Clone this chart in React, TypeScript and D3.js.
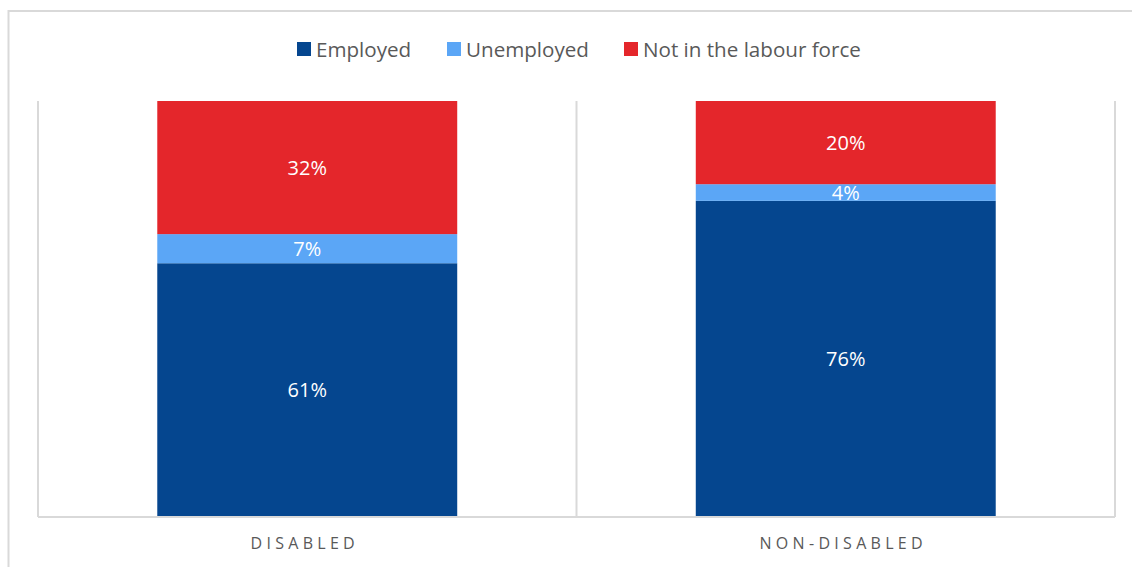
import React from "react";
import * as d3 from "d3";

const categories = ["DISABLED", "NON-DISABLED"];
const seriesNames = ["Employed", "Unemployed", "Not in the labour force"];
const employed = [61, 76];
const unemployed = [7, 4];
const notInLabourForce = [32, 20];
const colors = ["#05468F", "#5BA6F6", "#E4262B"];

const W = 1132;
const H = 567;
const plot = { left: 38, right: 1115, top: 101, bottom: 517 };
const font = "'Open Sans', sans-serif";

export default function App() {
  const x = d3.scaleBand<string>().domain(categories).range([plot.left, plot.right]).padding(0);
  const y = d3.scaleLinear().domain([0, 100]).range([plot.bottom, plot.top]);
  const barW = x.bandwidth() * 0.557;

  const rows = categories.map((c, i) => ({
    cat: c,
    Employed: employed[i],
    Unemployed: unemployed[i],
    "Not in the labour force": notInLabourForce[i],
  }));
  const stacked = d3.stack<any>().keys(seriesNames)(rows);

  const gridXs = [plot.left, ...categories.map((c) => (x(c) as number) + x.bandwidth())];

  const legendItems = [
    { name: seriesNames[0], sx: 297 },
    { name: seriesNames[1], sx: 447 },
    { name: seriesNames[2], sx: 624 },
  ];
  const ls = 4.3;

  return (
    <svg
      width={W}
      height={H}
      style={{ position: "absolute", left: 0, top: 0, display: "block", background: "#fff" }}
    >
      <rect x={8.5} y={11} width={1200} height={700} fill="#fff" stroke="#D9D9D9" strokeWidth={2} />
      {gridXs.map((gx, i) => (
        <line key={i} x1={gx} x2={gx} y1={plot.top} y2={plot.bottom} stroke="#D9D9D9" strokeWidth={2} />
      ))}
      {stacked.map((s, si) =>
        s.map((d, ci) => {
          const cx = (x(categories[ci]) as number) + x.bandwidth() / 2;
          const y0 = y(d[0]);
          const y1 = y(d[1]);
          return (
            <g key={`${si}-${ci}`}>
              <rect x={cx - barW / 2} y={y1} width={barW} height={y0 - y1} fill={colors[si]} />
              <text
                x={cx}
                y={(y0 + y1) / 2}
                dy="0.36em"
                textAnchor="middle"
                fill="#fff"
                fontFamily={font}
                fontSize={20}
              >
                {`${d[1] - d[0]}%`}
              </text>
            </g>
          );
        })
      )}
      <line x1={plot.left} x2={plot.right} y1={plot.bottom} y2={plot.bottom} stroke="#D9D9D9" strokeWidth={2} />
      {categories.map((c) => (
        <text
          key={c}
          x={(x(c) as number) + x.bandwidth() / 2 - 2.5}
          y={549}
          textAnchor="middle"
          fill="#595959"
          fontFamily={font}
          fontSize={16}
          letterSpacing={ls}
        >
          {c}
        </text>
      ))}
      {legendItems.map((l, i) => (
        <g key={l.name}>
          <rect x={l.sx} y={42} width={14} height={14} fill={colors[i]} />
          <text x={l.sx + 19} y={56.5} fill="#595959" fontFamily={font} fontSize={20.6}>
            {l.name}
          </text>
        </g>
      ))}
    </svg>
  );
}
